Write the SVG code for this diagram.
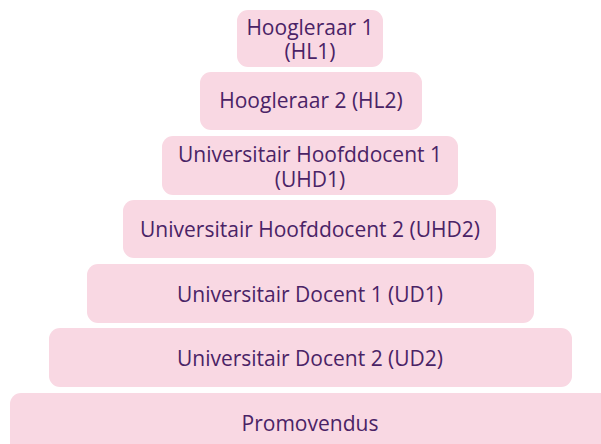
<svg xmlns="http://www.w3.org/2000/svg" width="601" height="444" viewBox="0 0 601 444">
<style>
.b{fill:#f9d8e3}
.t{font-family:"Open Sans","Noto Sans",sans-serif;font-size:21px;fill:#4a2366;text-anchor:middle}
</style>
<rect width="601" height="444" fill="#ffffff"/>
<g id="hl1"><rect class="b" x="237" y="10" width="146" height="57" rx="11"/><text class="t" x="310" y="35">Hoogleraar 1<tspan x="310" dy="24">(HL1)</tspan></text></g>
<g id="hl2"><rect class="b" x="200" y="72" width="222" height="58" rx="11"/><text class="t" x="311" y="108">Hoogleraar 2 (HL2)</text></g>
<g id="uhd1"><rect class="b" x="162" y="136" width="296" height="59" rx="11"/><text class="t" x="310" y="162">Universitair Hoofddocent 1<tspan x="310" dy="25">(UHD1)</tspan></text></g>
<g id="uhd2"><rect class="b" x="123" y="200" width="373" height="58" rx="11"/><text class="t" x="310" y="237">Universitair Hoofddocent 2 (UHD2)</text></g>
<g id="ud1"><rect class="b" x="87" y="264" width="447" height="59" rx="11"/><text class="t" x="310" y="302">Universitair Docent 1 (UD1)</text></g>
<g id="ud2"><rect class="b" x="49" y="328" width="523" height="59" rx="11"/><text class="t" x="310" y="366">Universitair Docent 2 (UD2)</text></g>
<g id="promo"><rect class="b" x="10" y="393" width="605" height="62" rx="11"/><text class="t" x="310" y="431">Promovendus</text></g>
<g id="connectors"></g>
</svg>
